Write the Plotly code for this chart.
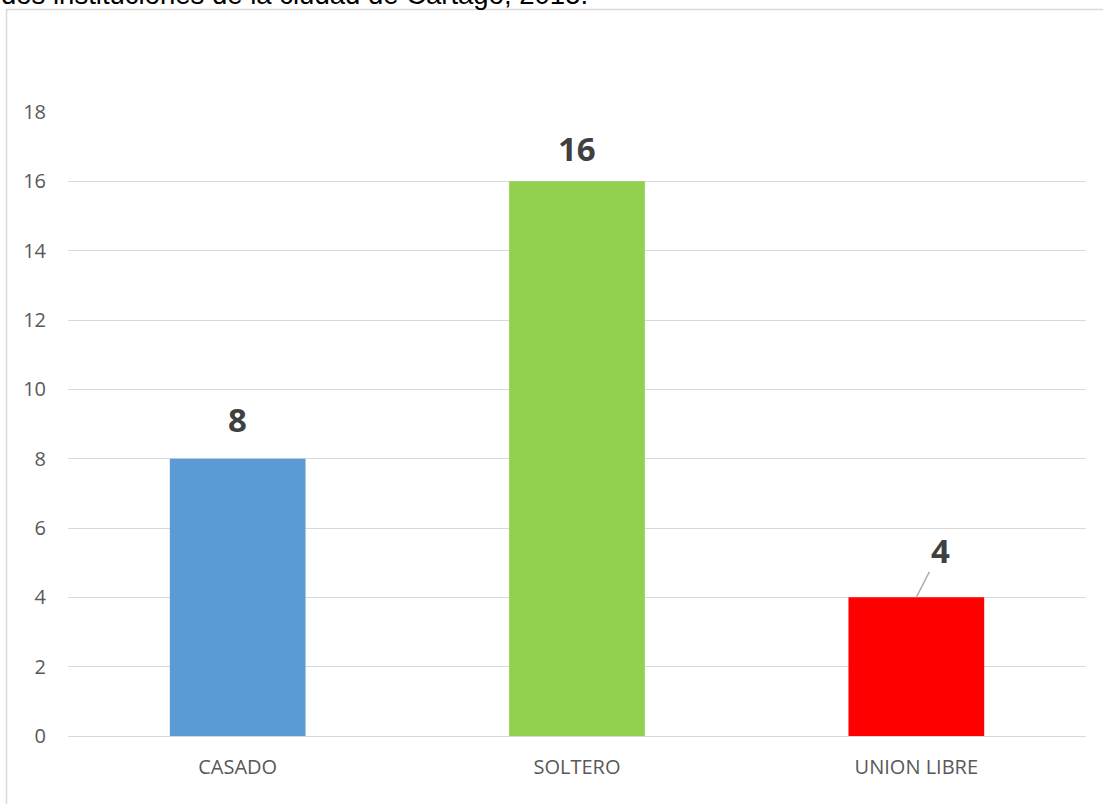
import plotly.graph_objects as go

categories = ["CASADO", "SOLTERO", "UNION LIBRE"]
values = [8, 16, 4]
bar_colors = ["#5B9BD5", "#92D050", "#FF0000"]
y_ticks = [0, 2, 4, 6, 8, 10, 12, 14, 16, 18]
title_text = "dos instituciones de la ciudad de Cartago, 2015."

W, H = 1103, 804
# target plot-area edges in page pixels
P_LEFT, P_RIGHT, P_TOP, P_BOTTOM = 68, 1086, 112, 736
ML = P_LEFT
MR = W - P_RIGHT
MT = P_TOP
MB = H - P_BOTTOM
PW, PH = P_RIGHT - P_LEFT, P_BOTTOM - P_TOP

def px_x(p):
    return (p - P_LEFT) / PW

def px_y(p):
    return (P_BOTTOM - p) / PH

fig = go.Figure()
fig.add_trace(go.Bar(
    x=categories, y=values,
    marker=dict(color=bar_colors, line=dict(width=0)),
    hoverinfo="skip",
))

label_font = dict(family="Open Sans", size=33, color="#404040")
shifts = [39, 33]
for i in range(2):
    fig.add_annotation(
        x=categories[i], y=values[i], xref="x", yref="y",
        text="<b>%d</b>" % values[i], showarrow=False,
        yanchor="middle", yshift=shifts[i], font=label_font,
    )
fig.add_annotation(
    x=categories[2], y=values[2], xref="x", yref="y",
    text="<b>%d</b>" % values[2], showarrow=True,
    arrowhead=0, arrowwidth=1.3, arrowcolor="#a6a6a6",
    ax=24, ay=-47, font=label_font,
)

# clipped heading text at the very top
fig.add_annotation(
    x=px_x(-1), y=1, xref="paper", yref="paper",
    xanchor="left", yanchor="bottom", yshift=100,
    text=title_text, showarrow=False,
    font=dict(family="Liberation Sans", size=27.5, color="#000000"),
)

# chart border
fig.add_shape(
    type="rect", xref="paper", yref="paper",
    x0=px_x(6.5), x1=px_x(1120), y0=px_y(820), y1=px_y(9.5),
    line=dict(color="#d9d9d9", width=1.5), layer="below",
)

fig.update_layout(
    width=W, height=H,
    margin=dict(l=ML, r=MR, t=MT, b=MB),
    paper_bgcolor="white", plot_bgcolor="white",
    bargap=0.6, showlegend=False,
    font=dict(family="Open Sans", color="#595959"),
)
fig.update_xaxes(
    showgrid=False, showline=False, zeroline=False,
    tickfont=dict(family="Open Sans", size=20, color="#595959"),
    ticklabelstandoff=17,
)
fig.update_yaxes(
    range=[0, 18], tickvals=y_ticks,
    showgrid=True, gridcolor="#d9d9d9", gridwidth=1,
    zeroline=True, zerolinecolor="#d9d9d9", zerolinewidth=1,
    showline=False,
    tickfont=dict(family="Open Sans", size=20, color="#595959"),
    ticklabelstandoff=21,
)

fig.write_html(
    "out.html",
    config={"displayModeBar": False},
    post_script="document.body.style.margin='0px';",
)
